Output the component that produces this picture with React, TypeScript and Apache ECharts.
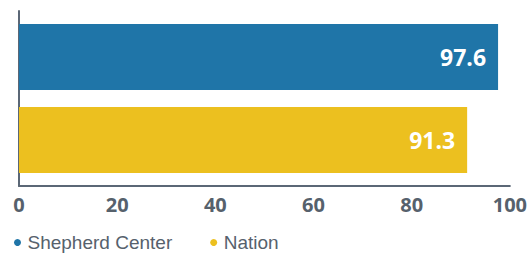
import React, { useEffect, useRef } from "react";
import * as echarts from "echarts";

const categories = [""];
const seriesNames = ["Shepherd Center", "Nation"];
const shepherdValues = [97.6];
const nationValues = [91.3];
const xTicks = [0, 20, 40, 60, 80, 100];
const colors = ["#1f75a8", "#ecc01f"];

export default function App() {
  const ref = useRef<HTMLDivElement>(null);
  useEffect(() => {
    if (!ref.current) return;
    const chart = echarts.init(ref.current, null, { renderer: "svg" });
    const labelStyle = {
      show: true,
      position: "insideRight",
      distance: 12,
      color: "#ffffff",
      fontFamily: "Open Sans",
      fontWeight: "bold",
      fontSize: 23,
      formatter: (p: any) => p.value.toFixed(1),
    };
    chart.setOption({
      animation: false,
      grid: { left: 19, right: 19, top: 11, bottom: 67 },
      legend: {
        left: 14,
        top: 232,
        icon: "circle",
        itemWidth: 10,
        itemHeight: 7,
        itemGap: 38,
        padding: 0,
        textStyle: { color: "#56616c", fontSize: 19, lineHeight: 21, fontFamily: "Liberation Sans" },
        data: seriesNames,
      },
      xAxis: {
        type: "value",
        min: xTicks[0],
        max: xTicks[xTicks.length - 1],
        interval: 20,
        splitLine: { show: false },
        axisTick: { show: false },
        axisLine: { show: true, lineStyle: { color: "#5b6776", width: 2 } },
        axisLabel: {
          color: "#56616c",
          fontFamily: "Open Sans",
          fontWeight: "bold",
          fontSize: 20,
          margin: 8,
        },
      },
      yAxis: {
        type: "category",
        data: categories,
        axisTick: { show: false },
        axisLabel: { show: false },
        axisLine: { show: true, lineStyle: { color: "#5b6776", width: 2 } },
      },
      series: [
        {
          name: seriesNames[0],
          type: "bar",
          data: shepherdValues,
          barWidth: 66,
          barGap: "26%",
          itemStyle: { color: colors[0] },
          label: labelStyle,
        },
        {
          name: seriesNames[1],
          type: "bar",
          data: nationValues,
          barWidth: 66,
          itemStyle: { color: colors[1] },
          label: labelStyle,
        },
      ],
    });
    return () => chart.dispose();
  }, []);
  return <div ref={ref} style={{ width: 530, height: 253, position: "absolute", left: 0, top: 0 }} />;
}
